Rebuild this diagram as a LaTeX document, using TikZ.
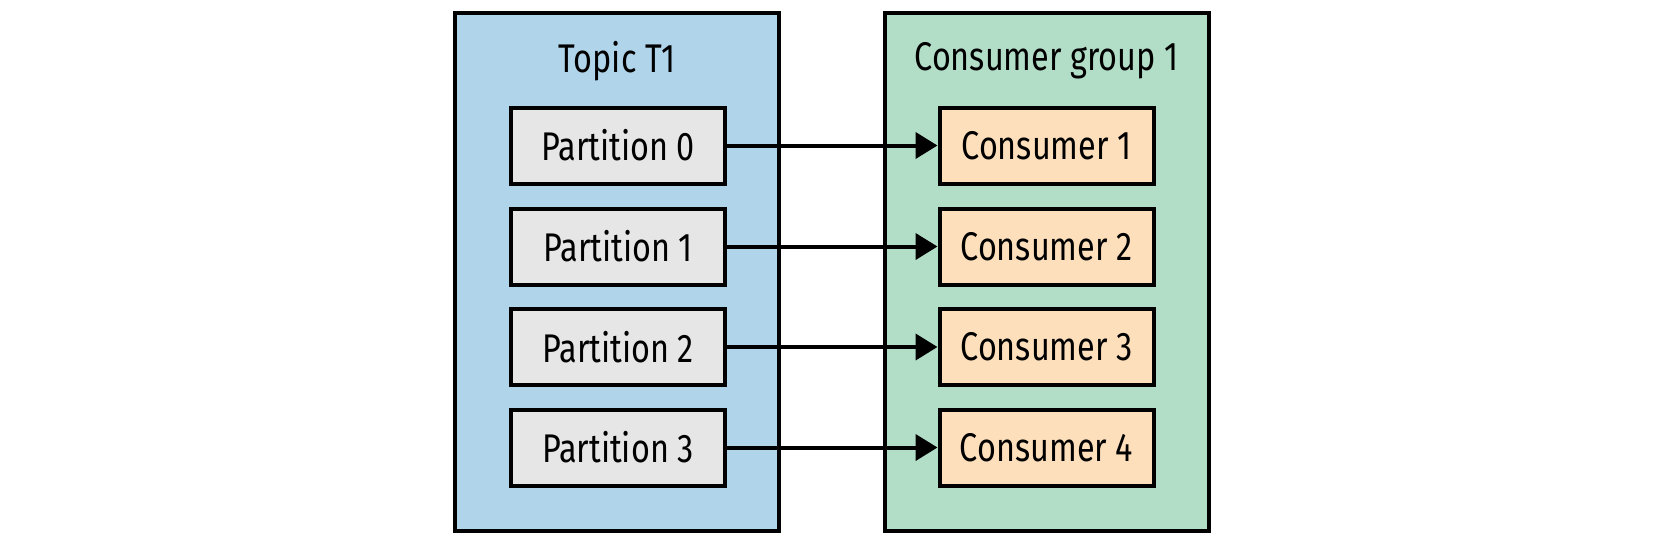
\documentclass[tikz,border=0pt]{standalone}
\usepackage{fontspec}
\setmainfont[FakeStretch=0.81]{Fira Sans}
\usetikzlibrary{arrows.meta}
\definecolor{topicblue}{RGB}{176,212,234}
\definecolor{groupgreen}{RGB}{178,222,200}
\definecolor{partgrey}{RGB}{230,230,230}
\definecolor{consorange}{RGB}{253,223,188}
\tikzset{
  outerbox/.style={draw=black, line width=4pt, minimum width=324pt, minimum height=518pt, inner sep=0pt},
  partbox/.style={draw=black, line width=4pt, fill=partgrey, minimum width=214pt, minimum height=76pt, inner sep=0pt, font=\fontsize{40}{44}\selectfont},
  consbox/.style={partbox, fill=consorange},
  titletext/.style={font=\fontsize{40}{44}\selectfont, inner sep=0pt},
  conn/.style={line width=4pt, -{Triangle[length=22pt,width=26pt]}}
}
\begin{document}
\begin{tikzpicture}[x=1pt,y=-1pt]
\useasboundingbox (0,0) rectangle (1672,552);
\node[outerbox, fill=topicblue] (topic) at (617,272) {};
\node[outerbox, fill=groupgreen] (group) at (1046.5,272) {};
\node[titletext] (ttitle) at (617,61) {Topic T1};
\node[titletext] (gtitle) at (1046.5,61) {Consumer group 1};
\node[partbox] (p0) at (618,145.5) {Partition 0};
\node[partbox] (p1) at (618,246.5) {Partition 1};
\node[partbox] (p2) at (618,347) {Partition 2};
\node[partbox] (p3) at (618,447.5) {Partition 3};
\node[consbox] (c0) at (1046.5,145.5) {Consumer 1};
\node[consbox] (c1) at (1046.5,246.5) {Consumer 2};
\node[consbox] (c2) at (1046.5,347) {Consumer 3};
\node[consbox] (c3) at (1046.5,447.5) {Consumer 4};
\draw[conn] (p0) -- (c0);
\draw[conn] (p1) -- (c1);
\draw[conn] (p2) -- (c2);
\draw[conn] (p3) -- (c3);
\end{tikzpicture}
\end{document}
